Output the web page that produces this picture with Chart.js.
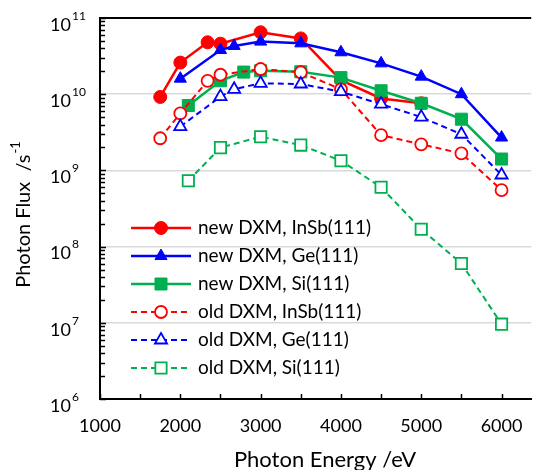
<!DOCTYPE html>
<html>
<head>
<meta charset="utf-8">
<script src="https://cdn.jsdelivr.net/npm/chart.js"></script>
<style>
  body { margin: 0; background: #fff; }
  #wrap { width: 541px; height: 470px; position: relative; }
</style>
</head>
<body>
<div id="wrap"><canvas id="fluxChart"></canvas></div>
<script>
// photon energy (eV) and flux (1/s)
const eNewInSb = [1750, 2000, 2340, 2500, 3000, 3500, 4000, 4500, 5000];
const fNewInSb = [9.2e9, 2.6e10, 4.8e10, 4.6e10, 6.5e10, 5.4e10, 1.53e10, 8.8e9, 7.6e9];

const eNewGe = [2000, 2500, 2670, 3000, 3500, 4000, 4500, 5000, 5500, 6000];
const fNewGe = [1.6e10, 3.8e10, 4.3e10, 4.9e10, 4.65e10, 3.55e10, 2.54e10, 1.7e10, 1.0e10, 2.7e9];

const eNewSi = [2100, 2500, 2790, 3000, 3500, 4000, 4500, 5000, 5500, 6000];
const fNewSi = [7.1e9, 1.5e10, 1.95e10, 2.03e10, 1.97e10, 1.65e10, 1.11e10, 7.6e9, 4.7e9, 1.41e9];

const eOldInSb = [1750, 2000, 2340, 2500, 3000, 3500, 4000, 4500, 5000, 5500, 6000];
const fOldInSb = [2.64e9, 5.6e9, 1.5e10, 1.8e10, 2.14e10, 1.94e10, 1.16e10, 2.9e9, 2.2e9, 1.67e9, 5.5e8];

const eOldGe = [2000, 2500, 2670, 3000, 3500, 4000, 4500, 5000, 5500, 6000];
const fOldGe = [3.75e9, 9.3e9, 1.16e10, 1.39e10, 1.36e10, 1.08e10, 7.4e9, 5.0e9, 2.98e9, 8.7e8];

const eOldSi = [2100, 2500, 3000, 3500, 4000, 4500, 5000, 5500, 6000];
const fOldSi = [7.3e8, 1.99e9, 2.77e9, 2.15e9, 1.34e9, 6.0e8, 1.69e8, 6.0e7, 9.6e6];

const xTickValues = [1000, 1500, 2000, 2500, 3000, 3500, 4000, 4500, 5000, 5500, 6000];
const yDecades = [1e6, 1e7, 1e8, 1e9, 1e10, 1e11];

const FONT = 'Lato';
const RED = '#ff0000', BLUE = '#0000ff', GREEN = '#00b050';

function pts(xs, ys) {
  return xs.map((v, i) => ({ x: v, y: ys[i] }));
}

function series(label, xs, ys, color, style, radius, open, idx) {
  return {
    label: label,
    data: pts(xs, ys),
    borderColor: color,
    borderWidth: open ? 2 : 2.5,
    borderDash: open ? [6, 4] : [],
    pointStyle: style,
    pointRadius: radius,
    pointBorderWidth: open ? 1.8 : 1,
    pointBorderColor: color,
    pointBackgroundColor: open ? '#ffffff' : color,
    tension: 0,
    order: 10 - idx
  };
}

const datasets = [
  series('new DXM, InSb(111)', eNewInSb, fNewInSb, RED, 'circle', 6.5, false, 0),
  series('new DXM, Ge(111)', eNewGe, fNewGe, BLUE, 'triangle', 7, false, 1),
  series('new DXM, Si(111)', eNewSi, fNewSi, GREEN, 'rect', 8.5, false, 2),
  series('old DXM, InSb(111)', eOldInSb, fOldInSb, RED, 'circle', 6, true, 3),
  series('old DXM, Ge(111)', eOldGe, fOldGe, BLUE, 'triangle', 7, true, 4),
  series('old DXM, Si(111)', eOldSi, fOldSi, GREEN, 'rect', 8, true, 5)
];

// frame top, inward ticks, power-of-ten labels, titles and legend
const decor = {
  id: 'decor',
  afterDraw(chart) {
    const ctx = chart.ctx;
    const a = chart.chartArea;
    const x = chart.scales.x, y = chart.scales.y;
    ctx.save();
    ctx.strokeStyle = '#000';
    ctx.lineWidth = 2;
    ctx.beginPath();
    ctx.moveTo(a.left - 1, a.top);
    ctx.lineTo(a.right, a.top);
    ctx.stroke();

    ctx.lineWidth = 1.5;
    ctx.beginPath();
    for (const d of yDecades) {
      for (let k = 1; k <= 9; k++) {
        const v = d * k;
        if (v > 1e11) break;
        const py = Math.round(y.getPixelForValue(v)) + 0.5;
        ctx.moveTo(a.left, py);
        ctx.lineTo(a.left + (k === 1 ? 6 : 5), py);
      }
    }
    for (const v of xTickValues) {
      const px = Math.round(x.getPixelForValue(v)) + 0.5;
      ctx.moveTo(px, a.bottom);
      ctx.lineTo(px, a.bottom - 5);
    }
    ctx.stroke();

    // y labels as 10 with raised exponent
    ctx.fillStyle = '#000';
    ctx.textBaseline = 'middle';
    for (const d of yDecades) {
      const py = y.getPixelForValue(d);
      const ex = String(Math.round(Math.log10(d)));
      ctx.font = '18px ' + FONT;
      ctx.textAlign = 'right';
      ctx.fillText('10', 71, py + 7);
      ctx.font = '12px ' + FONT;
      ctx.textAlign = 'left';
      ctx.fillText(ex, 72, py - 2);
    }

    // x title
    ctx.font = '22px ' + FONT;
    ctx.textAlign = 'center';
    ctx.fillText('Photon Energy /eV', 325, 460);

    // y title, rotated
    ctx.save();
    ctx.translate(24, 215);
    ctx.rotate(-Math.PI / 2);
    const main = 'Photon Flux  /s';
    const sup = '-1';
    ctx.font = '20px ' + FONT;
    const w1 = ctx.measureText(main).width;
    ctx.font = '13px ' + FONT;
    const w2 = ctx.measureText(sup).width;
    const start = -(w1 + w2) / 2;
    ctx.textAlign = 'left';
    ctx.font = '20px ' + FONT;
    ctx.fillText(main, start, 0);
    ctx.font = '13px ' + FONT;
    ctx.fillText(sup, start + w1 + 1, -8);
    ctx.restore();

    // legend: line with marker, then label
    chart.data.datasets.forEach((ds, i) => {
      const ly = 228 + i * 28;
      ctx.save();
      ctx.strokeStyle = ds.borderColor;
      ctx.lineWidth = ds.borderWidth;
      ctx.setLineDash(ds.borderDash);
      ctx.beginPath();
      ctx.moveTo(131, ly);
      ctx.lineTo(191, ly);
      ctx.stroke();
      ctx.setLineDash([]);
      ctx.fillStyle = ds.pointBackgroundColor;
      ctx.strokeStyle = ds.pointBorderColor;
      ctx.lineWidth = ds.pointBorderWidth;
      Chart.helpers.drawPoint(ctx, {
        pointStyle: ds.pointStyle,
        radius: ds.pointRadius,
        rotation: 0,
        borderWidth: ds.pointBorderWidth
      }, 161, ly);
      ctx.restore();
      ctx.fillStyle = '#000';
      ctx.font = '19px ' + FONT;
      ctx.textAlign = 'left';
      ctx.textBaseline = 'middle';
      ctx.fillText(ds.label, 198, ly);
    });
    ctx.restore();
  }
};

new Chart(document.getElementById('fluxChart'), {
  type: 'line',
  data: { datasets: datasets },
  options: {
    responsive: true,
    maintainAspectRatio: false,
    animation: false,
    layout: { padding: { top: 18, right: 0, bottom: 0, left: 0 } },
    plugins: {
      legend: { display: false },
      tooltip: { enabled: false }
    },
    scales: {
      x: {
        type: 'linear',
        min: 1000,
        max: 6369,
        afterBuildTicks: (s) => { s.ticks = xTickValues.map(v => ({ value: v })); },
        afterFit: (s) => { s.height = 71; },
        grid: { display: false, drawTicks: false },
        border: { display: true, color: '#000', width: 2 },
        ticks: {
          color: '#000',
          font: { family: FONT, size: 18 },
          padding: 16,
          maxRotation: 0,
          autoSkip: false,
          callback: (v) => (v % 1000 === 0 ? String(v) : '')
        }
      },
      y: {
        type: 'logarithmic',
        min: 1e6,
        max: 1e11,
        afterBuildTicks: (s) => { s.ticks = yDecades.map(v => ({ value: v, major: true })); },
        afterFit: (s) => { s.width = 100; },
        grid: { color: '#d9d9d9', lineWidth: 1.5, drawTicks: false },
        border: { display: true, color: '#000', width: 2 },
        ticks: { display: false }
      }
    }
  },
  plugins: [decor]
});
</script>
</body>
</html>
